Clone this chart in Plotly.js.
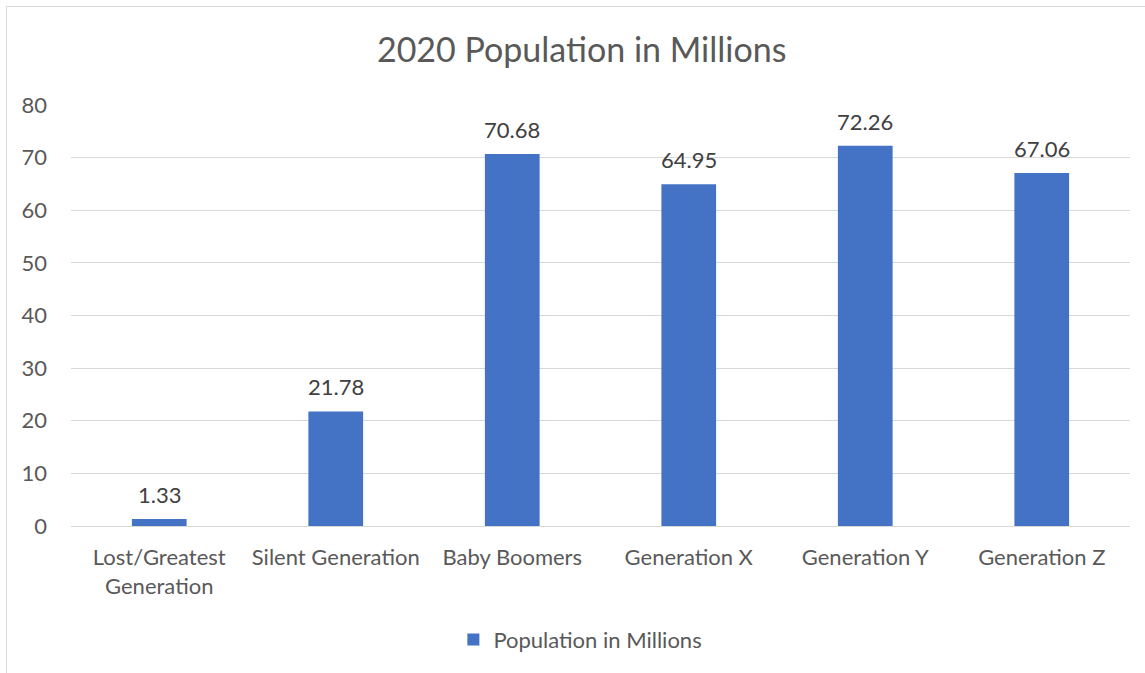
<!DOCTYPE html>
<html>
<head>
<meta charset="utf-8">
<script src="https://cdn.plot.ly/plotly-3.0.1.min.js"></script>
<style>
  html, body { margin: 0; padding: 0; background: #fff; overflow: hidden; }
  #frame { position: absolute; left: 6px; top: 6px; width: 1160px; height: 700px; border: 1px solid #d9d9d9; box-sizing: border-box; }
  #chart { position: absolute; left: 0; top: 0; width: 1145px; height: 673px; }
</style>
</head>
<body>
<div id="frame"></div>
<div id="chart"></div>
<script>
const categories = ["Lost/Greatest<br>Generation", "Silent Generation", "Baby Boomers", "Generation X", "Generation Y", "Generation Z"];
const population = [1.33, 21.78, 70.68, 64.95, 72.26, 67.06];
const seriesName = "Population in Millions";
const chartTitle = "2020 Population in Millions";
const yTicks = [0, 10, 20, 30, 40, 50, 60, 70, 80];

const font = "Lato, 'Open Sans', sans-serif";

const trace = {
  type: "bar",
  x: categories,
  y: population,
  name: seriesName,
  marker: { color: "#4472c4" },
  hoverinfo: "x+y"
};

const labels = categories.map((c, i) => ({
  x: c,
  y: population[i],
  xref: "x",
  yref: "y",
  text: population[i].toFixed(2),
  showarrow: false,
  yanchor: "bottom",
  xanchor: "center",
  yshift: 9,
  font: { family: font, size: 22, color: "#404040" }
}));

const layout = {
  width: 1145,
  height: 673,
  paper_bgcolor: "rgba(0,0,0,0)",
  plot_bgcolor: "rgba(0,0,0,0)",
  margin: { l: 71, r: 15, t: 105, b: 147 },
  title: {
    text: chartTitle,
    font: { family: font, size: 34, color: "#595959" },
    x: 0.508, xanchor: "center",
    y: 0.925, yanchor: "middle"
  },
  bargap: 0.69,
  showlegend: true,
  legend: {
    orientation: "h",
    x: 0.481, xanchor: "center",
    y: -0.27, yanchor: "middle",
    font: { family: font, size: 22, color: "#595959" }
  },
  annotations: labels,
  xaxis: {
    type: "category",
    tickfont: { family: font, size: 22, color: "#595959" },
    showgrid: false,
    showline: false,
    ticks: "",
    ticklabelstandoff: 16
  },
  yaxis: {
    range: [0, 80],
    tickvals: yTicks,
    ticktext: yTicks.map(String),
    tickfont: { family: font, size: 22, color: "#595959" },
    showgrid: true,
    gridcolor: "#d9d9d9",
    gridwidth: 1,
    zeroline: true,
    zerolinecolor: "#d9d9d9",
    zerolinewidth: 1,
    showline: false,
    ticks: "",
    ticklabelstandoff: 23
  }
};

Plotly.newPlot("chart", [trace], layout, { displayModeBar: false, staticPlot: true });
</script>
</body>
</html>
